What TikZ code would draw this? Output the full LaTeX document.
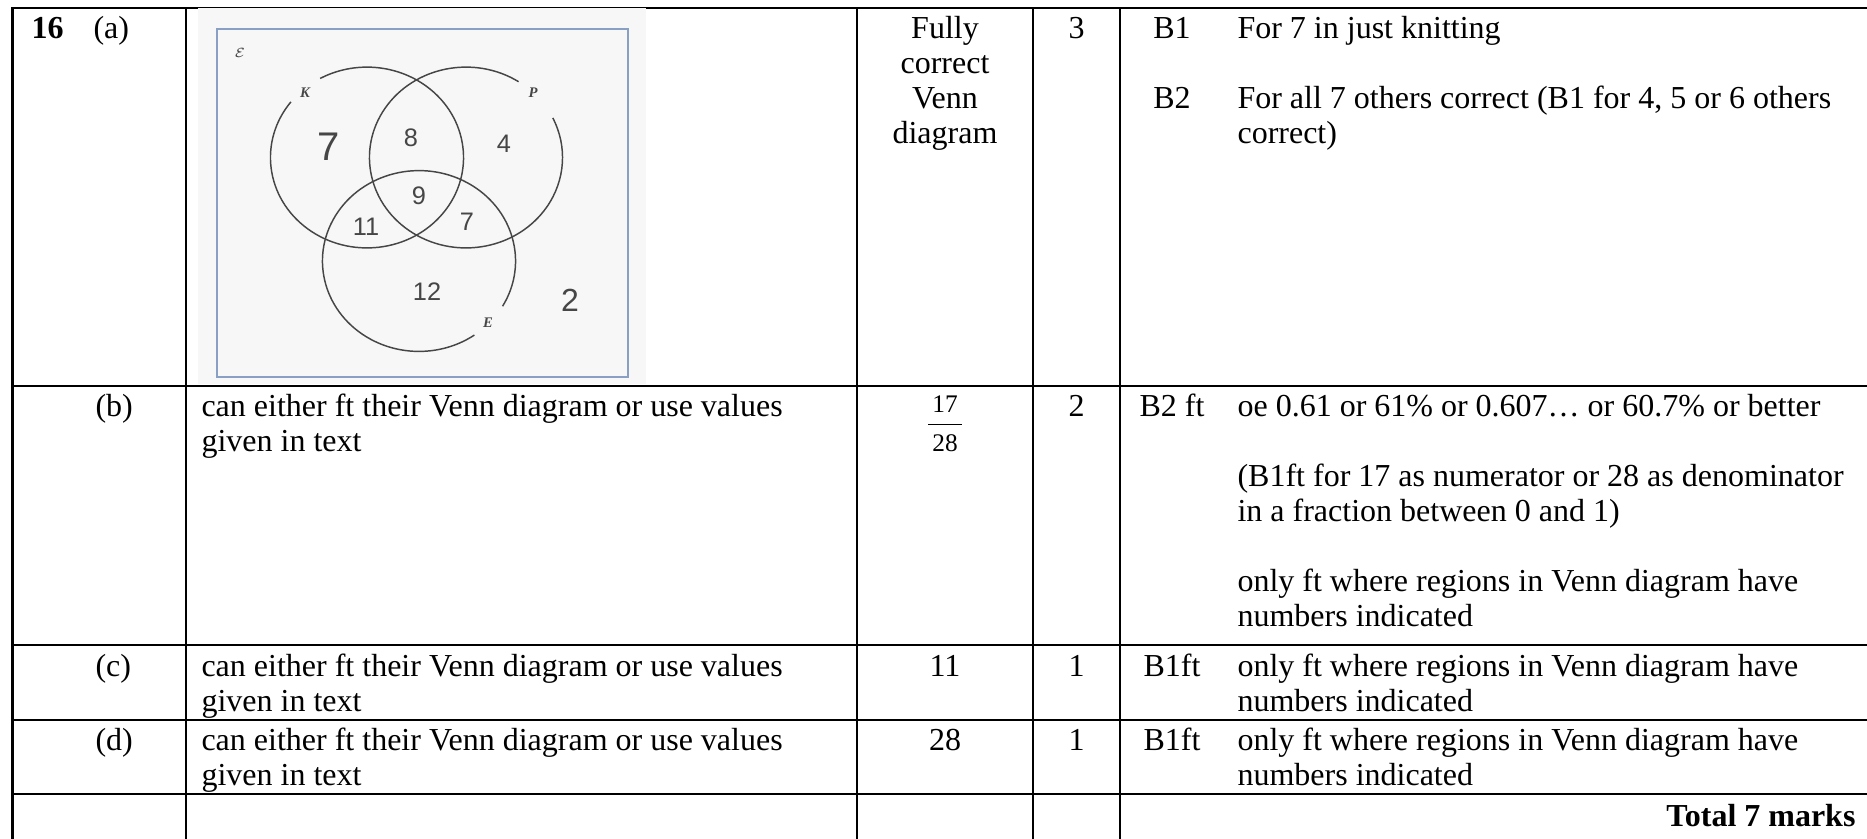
\documentclass[tikz,border=0pt]{standalone}
\usepackage{fontspec}
\setmainfont{Liberation Serif}
\newfontfamily\handfont{Liberation Sans}
\usetikzlibrary{calc}

\definecolor{boxblue}{RGB}{137,160,196}
\definecolor{pencil}{RGB}{70,70,70}
\definecolor{scanbg}{RGB}{247,247,247}

\newcommand{\lcell}[1]{\begin{tabular}[t]{@{}l@{}}#1\end{tabular}}
\newcommand{\ccell}[1]{\begin{tabular}[t]{@{}c@{}}#1\end{tabular}}

\tikzset{
  tablerule/.style={line width=1pt, line cap=rect},
  txt/.style={anchor=base west, inner sep=0pt},
  mid/.style={anchor=base, inner sep=0pt},
  ring/.style={draw=pencil, line width=0.55pt},
  digit/.style={inner sep=0pt, text=pencil, font=\handfont\fontsize{#1}{#1}\selectfont},
  digit/.default=9.5,
  setname/.style={inner sep=0pt, text=pencil, font=\fontsize{5.5}{6}\selectfont\bfseries\itshape}
}

\begin{document}
\begin{tikzpicture}[x=0.375pt, y=-0.375pt, font=\fontsize{12}{13.125}\selectfont]
\useasboundingbox (0,0) rectangle (1867,838);

% Table rules
\foreach \y in {8,386,645,720,794}
    \draw[tablerule] (12.5,\y) -- (1880,\y);
\foreach \x in {12.5,186,857,1033,1120}
    \draw[tablerule] (\x,8) -- (\x,850);

% Scanned Venn diagram
\fill[scanbg] (198,8.4) rectangle (646,384);
\draw[boxblue, line width=0.75pt] (217,29) rectangle (628,377);
\coordinate (kc) at (367,157.5);
\coordinate (pc) at (466,157.5);
\coordinate (ec) at (419,261);
\draw[ring] (kc) ++(142:36.2pt and 33.9pt) arc[start angle=142, end angle=479, x radius=36.2pt, y radius=33.9pt];
\draw[ring] (pc) ++(57:36.2pt and 33.9pt) arc[start angle=57, end angle=386, x radius=36.2pt, y radius=33.9pt];
\draw[ring] (ec) ++(-30:36.2pt and 33.9pt) arc[start angle=-30, end angle=305, x radius=36.2pt, y radius=33.9pt];

% Set names
\node[setname] (univ) at (240,53) {$\mathcal{E}$};
\node[setname] (lblk) at (305,93) {K};
\node[setname] (lblp) at (533,93) {P};
\node[setname] (lble) at (488,323) {E};

% Region counts
\node[digit=15] (onlyk) at (329,147) {7};
\node[digit] (kp) at (411,137.5) {8};
\node[digit] (onlyp) at (504,144) {4};
\node[digit] (kpe) at (419,196) {9};
\node[digit] (ke) at (366,227) {11};
\node[digit] (pe) at (467,221.5) {7};
\node[digit] (onlye) at (427,292) {12};
\node[digit=12] (outside) at (570,300) {2};

% Row (a)
\node[txt, font=\fontsize{12}{13.125}\selectfont\bfseries] (qnum) at (31,38) {16};
\node[txt] (parta) at (93,38) {(a)};
\node[mid] (ansa) at (945,38) {\ccell{Fully\\correct\\Venn\\diagram}};
\node[mid] (marka) at (1076.5,38) {3};
\node[mid] (codea1) at (1172,38) {B1};
\node[txt] (notea1) at (1237,38) {For 7 in just knitting};
\node[mid] (codea2) at (1172,108) {B2};
\node[txt] (notea2) at (1237,108) {\lcell{For all 7 others correct (B1 for 4, 5 or 6 others\\correct)}};

% Row (b)
\node[txt] (partb) at (95,416) {(b)};
\node[txt] (workb) at (201,416) {\lcell{can either ft their Venn diagram or use values\\given in text}};
\node[mid, font=\fontsize{9.5}{14.5}\selectfont] (ansb) at (945,412) {\begin{tabular}[t]{@{\,}c@{\,}}17\\\hline 28\end{tabular}};
\node[mid] (markb) at (1076.5,416) {2};
\node[mid] (codeb) at (1172,416) {B2 ft};
\node[txt] (noteb) at (1237,416) {\lcell{oe 0.61 or 61\% or 0.607… or 60.7\% or better\\ \\(B1ft for 17 as numerator or 28 as denominator\\in a fraction between 0 and 1)\\ \\only ft where regions in Venn diagram have\\numbers indicated}};

% Row (c)
\node[txt] (partc) at (95,676) {(c)};
\node[txt] (workc) at (201,676) {\lcell{can either ft their Venn diagram or use values\\given in text}};
\node[mid] (ansc) at (945,676) {11};
\node[mid] (markc) at (1076.5,676) {1};
\node[mid] (codec) at (1172,676) {B1ft};
\node[txt] (notec) at (1237,676) {\lcell{only ft where regions in Venn diagram have\\numbers indicated}};

% Row (d)
\node[txt] (partd) at (95,750) {(d)};
\node[txt] (workd) at (201,750) {\lcell{can either ft their Venn diagram or use values\\given in text}};
\node[mid] (ansd) at (945,750) {28};
\node[mid] (markd) at (1076.5,750) {1};
\node[mid] (coded) at (1172,750) {B1ft};
\node[txt] (noted) at (1237,750) {\lcell{only ft where regions in Venn diagram have\\numbers indicated}};

% Total
\node[anchor=base east, inner sep=0pt, font=\fontsize{12}{13.125}\selectfont\bfseries] (total) at (1856,826) {Total 7 marks};

\end{tikzpicture}
\end{document}
